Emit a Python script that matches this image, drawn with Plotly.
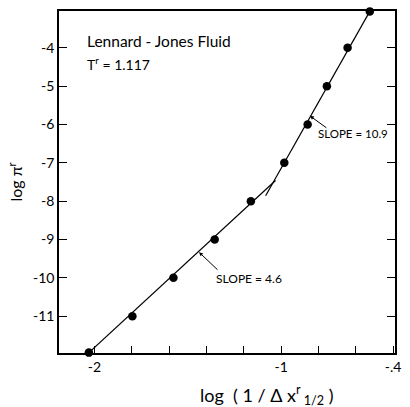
import plotly.graph_objects as go

# data points
log_inv_dx = [-2.03, -1.797, -1.577, -1.356, -1.162, -0.983, -0.858, -0.755, -0.644, -0.525]
log_pi = [-11.95, -11.0, -10.0, -9.0, -8.0, -7.0, -6.0, -5.0, -4.0, -3.05]

# fitted lines
low_line_x = [-2.03, -1.03]
low_line_y = [-11.95, -7.46]
high_line_x = [-1.083, -0.525]
high_line_y = [-7.86, -3.05]

x_tickvals = [-2.0, -1.0, -0.4]
x_ticktext = ["-2", "-1", "-.4"]
y_tickvals = [-4, -5, -6, -7, -8, -9, -10, -11]
y_ticktext = ["-4", "-5", "-6", "-7", "-8", "-9", "-10", "-11"]

FONT = "Lato"
fig = go.Figure()
fig.add_trace(go.Scatter(x=low_line_x, y=low_line_y, mode="lines",
                         line=dict(color="black", width=1.2), showlegend=False))
fig.add_trace(go.Scatter(x=high_line_x, y=high_line_y, mode="lines",
                         line=dict(color="black", width=1.2), showlegend=False))
fig.add_trace(go.Scatter(x=log_inv_dx, y=log_pi, mode="markers",
                         marker=dict(color="black", size=8.5), cliponaxis=False,
                         showlegend=False))

fig.update_layout(
    width=410, height=407,
    margin=dict(l=59, r=9, t=10, b=54),
    paper_bgcolor="white", plot_bgcolor="white",
    font=dict(family=FONT, color="black", size=14),
    xaxis=dict(range=[-2.19, -0.39], tickvals=x_tickvals, ticktext=x_ticktext,
               ticks="inside", ticklen=7, tickcolor="black", tickwidth=1,
               minor=dict(tick0=-2, dtick=0.2, ticks="inside", ticklen=7,
                          tickcolor="black", tickwidth=1, showgrid=False),
               showline=True, linecolor="black", linewidth=1.5, mirror=True,
               showgrid=False, zeroline=False),
    yaxis=dict(range=[-11.96, -3.04], tickvals=y_tickvals, ticktext=y_ticktext,
               ticks="inside", ticklen=8, tickcolor="black", tickwidth=1,
               showline=True, linecolor="black", linewidth=1.5, mirror="ticks",
               showgrid=False, zeroline=False,
               title=dict(text="log π<sup>r</sup>", standoff=6, font=dict(size=16))),
)

fig.add_annotation(x=-2.05, y=-3.83, text="Lennard - Jones Fluid", showarrow=False,
                   xanchor="left", yanchor="middle", font=dict(size=15.5))
fig.add_annotation(x=-2.05, y=-4.42, text="T<sup>r</sup> = 1.117", showarrow=False,
                   xanchor="left", yanchor="middle", font=dict(size=14))

# slope labels
fig.add_annotation(x=-0.846, y=-5.775, ax=18, ay=13, text="", showarrow=True,
                   arrowhead=2, arrowsize=0.8, arrowwidth=1, arrowcolor="black")
fig.add_annotation(x=-0.814, y=-6.24, text="SLOPE = 10.9", showarrow=False,
                   xanchor="left", yanchor="middle", font=dict(size=11.5))
fig.add_annotation(x=-1.44, y=-9.33, ax=20, ay=19, text="", showarrow=True,
                   arrowhead=2, arrowsize=0.8, arrowwidth=1, arrowcolor="black")
fig.add_annotation(x=-1.361, y=-10.01, text="SLOPE = 4.6", showarrow=False,
                   xanchor="left", yanchor="middle", font=dict(size=12))

fig.add_annotation(xref="paper", yref="paper", x=(271 - 59) / 342, y=-(395 - 353) / 343,
                   text="log  ( 1 / Δ x<sup>r</sup><sub> 1/2</sub> )", showarrow=False,
                   xanchor="center", yanchor="middle", font=dict(size=18))

fig.write_html("out.html")
